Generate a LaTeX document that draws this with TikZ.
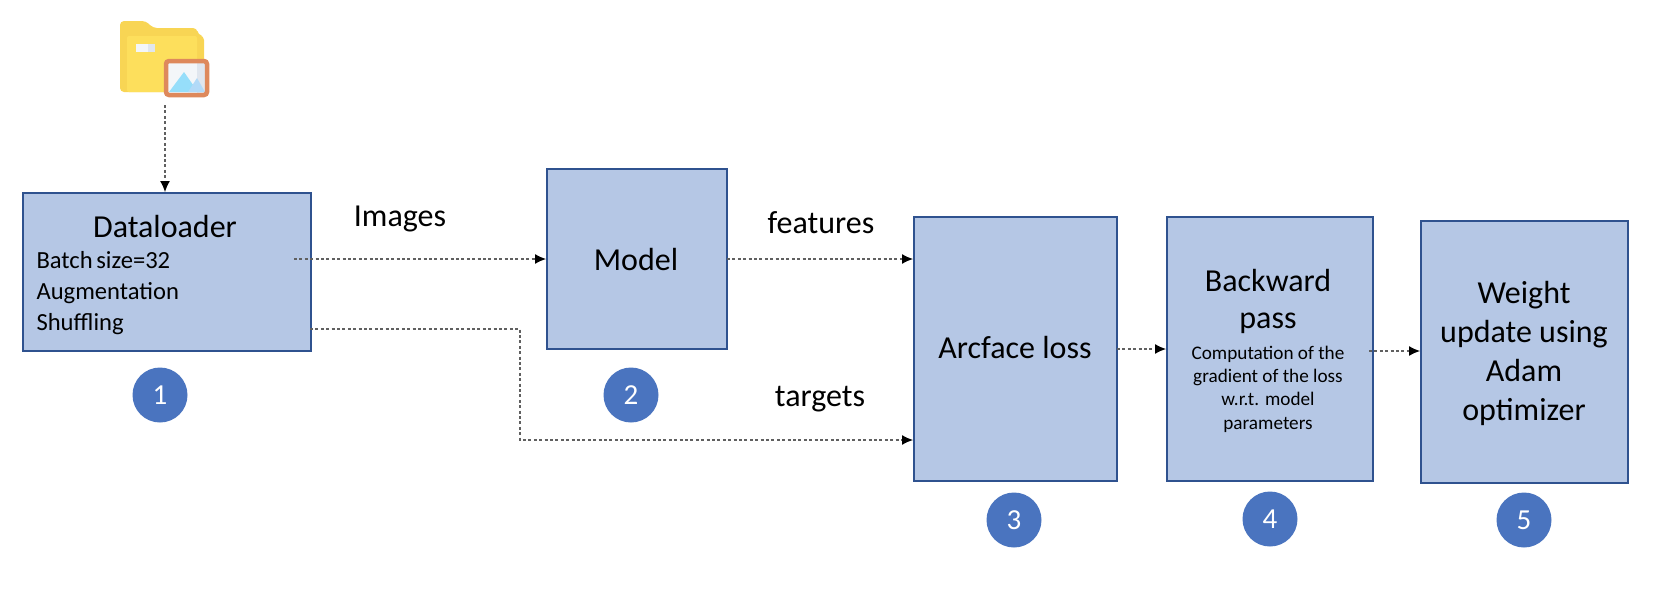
\documentclass[tikz,border=0pt]{standalone}
\usepackage{fontspec}
\setmainfont{Carlito}
\usetikzlibrary{arrows.meta}
\definecolor{boxfill}{HTML}{B5C7E5}
\definecolor{boxline}{HTML}{2F528F}
\definecolor{badge}{HTML}{4A74BF}
\definecolor{flow}{HTML}{606060}
\tikzset{
  x=1pt,y=-1pt,
  blockbox/.style={draw=boxline,line width=1.6pt,fill=boxfill,inner sep=0pt,anchor=north west,text=black},
  badgenode/.style={circle,fill=badge,minimum size=55pt,inner sep=0pt,text=white,font=\fontsize{29}{29}\selectfont},
  flowline/.style={draw=flow,line width=1.2pt,dash pattern=on 3pt off 2.4pt},
  flowtip/.style={-{Latex[black,length=11pt,width=10pt]}},
  big/.style={font=\fontsize{32}{38}\selectfont,align=center,text=black},
  mid/.style={font=\fontsize{24.6}{31}\selectfont,align=left,text=black},
  small/.style={font=\fontsize{19.2}{23.3}\selectfont,align=center,text=black},
}
\begin{document}
\begin{tikzpicture}
\useasboundingbox (0,0) rectangle (1662,600);
% boxes
\node[blockbox,minimum width=288pt,minimum height=158pt] (dl) at (22,192) {};
\node[blockbox,minimum width=180pt,minimum height=180pt] (model) at (546,168) {};
\node[blockbox,minimum width=203pt,minimum height=264pt] (arc) at (913,216) {};
\node[blockbox,minimum width=206pt,minimum height=264pt] (back) at (1166,216) {};
\node[blockbox,minimum width=207pt,minimum height=262pt] (weight) at (1420,220) {};
% box text
\node[big] (dlt) at (165,227) {Dataloader};
\node[mid,anchor=west] (dll) at (33,293) {Batch\hspace{-0.08em} size=32\\Augmentation\\Shuffling};
\node[big] (modelt) at (636,259) {Model};
\node[big] (arct) at (1015,348) {Arcface loss};
\node[big,font=\fontsize{32}{37}\selectfont] (backt) at (1268,301) {Backward\\pass};
\node[small] (backs) at (1268,389) {Computation of the\\gradient of the loss\\w.r.t. model\\parameters};
\node[big,font=\fontsize{32}{39}\selectfont] (weightt) at (1524,353) {Weight\\update using\\Adam\\optimizer};
% edge labels
\node[big] (limg) at (400,219) {Images};
\node[big] (lfeat) at (821,223) {features};
\node[big] (ltar) at (820,399) {targets};
% badges
\node[badgenode] (b1) at (160,395) {1};
\node[badgenode] (b2) at (631,395) {2};
\node[badgenode] (b3) at (1014,520) {3};
\node[badgenode] (b4) at (1270,519) {4};
\node[badgenode] (b5) at (1524,520) {5};
% folder icon
\fill[fill={rgb,255:red,248;green,213;blue,84},rounded corners=4pt] (120,92) -- (120,21) -- (146,21) -- (153,28) -- (197,28) -- (198,35) -- (204,36) -- (204,92) -- cycle;
\fill[fill={rgb,255:red,253;green,223;blue,92},rounded corners=2pt] (127,36) rectangle (197,92);
\fill[fill={rgb,255:red,243;green,246;blue,249}] (136,44) rectangle (148,52);
\fill[fill={rgb,255:red,224;green,230;blue,238}] (148,44) rectangle (155,52);
\fill[fill={rgb,255:red,243;green,246;blue,249}] (167,62) rectangle (205,94);
\fill[fill={rgb,255:red,224;green,230;blue,238}] (197,62) rectangle (205,94);
\fill[fill={rgb,255:red,150;green,222;blue,250}] (169,92) -- (184,72) -- (198,92) -- cycle;
\fill[fill={rgb,255:red,178;green,218;blue,248}] (188,92) -- (197,78) -- (205,92) -- cycle;
\draw[draw={rgb,255:red,222;green,137;blue,92},line width=4.5pt,rounded corners=3pt] (166,61) rectangle (207,95);
\coordinate (icon) at (165,105);
\coordinate (imgstart) at (294,259);
\coordinate (tarstart) at (310,329);
\coordinate (tarbend1) at (520,329);
\coordinate (tarbend2) at (520,440);
\coordinate (featend) at (913,259);
\coordinate (tarend) at (913,440);
\coordinate (backout) at (1369,351);
\coordinate (arcout) at (1117,349);
\coordinate (backin) at (1166,349);
\coordinate (weightin) at (1420,351);
\coordinate (imgend) at (546,259);
\coordinate (featstart) at (727,259);
\coordinate (dltop) at (165,192);
% connectors
\draw[flowline,flowtip] (icon) -- (dltop);
\draw[flowline,flowtip] (imgstart) -- (imgend);
\draw[flowline,flowtip] (featstart) -- (featend);
\draw[flowline,flowtip] (tarstart) -- (tarbend1) -- (tarbend2) -- (tarend);
\draw[flowline,flowtip] (arcout) -- (backin);
\draw[flowline,flowtip] (backout) -- (weightin);
\end{tikzpicture}
\end{document}
